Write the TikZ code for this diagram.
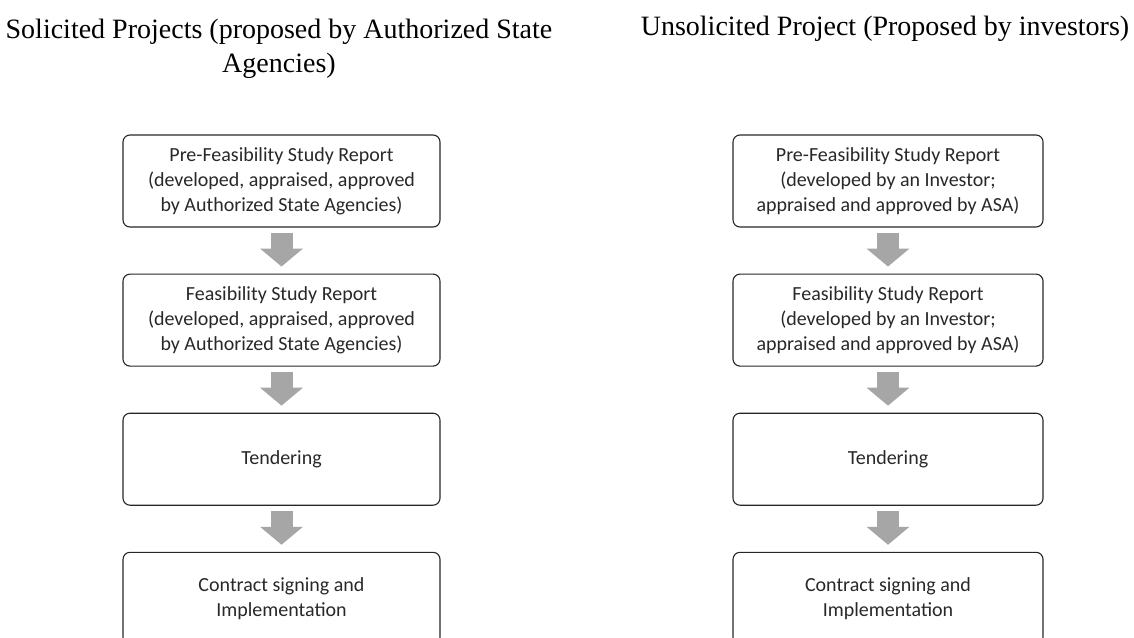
\documentclass[tikz,border=0pt]{standalone}
\usepackage{fontspec}
\usepackage{tikz}
\usetikzlibrary{arrows.meta}
\usetikzlibrary{positioning}
\newfontfamily\headfont{Liberation Serif}
\newfontfamily\stagefont{Carlito}
\definecolor{flowgray}{RGB}{166, 166, 166}
\definecolor{textgray}{RGB}{40, 40, 40}

\begin{document}
\begin{tikzpicture}[
      x=1pt, y=-1pt,
      heading/.style={align=center, anchor=base, font=\headfont\fontsize{28}{34}\selectfont},
      stage/.style={rectangle, rounded corners=7pt, draw=black!85, line width=1.1pt,
                    minimum width=317pt, minimum height=92pt, inner sep=0pt,
                    align=center, text=textgray, font=\stagefont\fontsize{20}{25}\selectfont},
      flow/.style={draw=flowgray, line width=22pt, -{Triangle[width=42pt, length=18pt]},
                   shorten <=5pt, shorten >=7pt},
      node distance=46pt
    ]
      \useasboundingbox (0,0) rectangle (1134,637);
      \clip (0,0) rectangle (1134,637);

      \node [heading] (solhead) at (279,72)
            {Solicited Projects (proposed by Authorized State\\Agencies)};
      \node [heading] (unsolhead) at (885,35)
            {Unsolicited Project (Proposed by investors)};

      % solicited column
      \node [stage] (solpre) at (281.5,181)
            {Pre-Feasibility Study Report\\(developed, appraised, approved\\by Authorized State Agencies)};
      \node [stage, below=of solpre] (solfeas)
            {Feasibility Study Report\\(developed, appraised, approved\\by Authorized State Agencies)};
      \node [stage, below=of solfeas] (soltender) {Tendering};
      \node [stage, below=of soltender] (solcontract)
            {Contract signing and\\Implementation};

      % unsolicited column
      \node [stage, minimum width=310pt] (unspre) at (888,181)
            {Pre-Feasibility Study Report\\(developed by an Investor;\\appraised and approved by ASA)};
      \node [stage, minimum width=310pt, below=of unspre] (unsfeas)
            {Feasibility Study Report\\(developed by an Investor;\\appraised and approved by ASA)};
      \node [stage, minimum width=310pt, below=of unsfeas] (unstender) {Tendering};
      \node [stage, minimum width=310pt, below=of unstender] (unscontract)
            {Contract signing and\\Implementation};

      \draw [flow] (solpre) -- (solfeas);
      \draw [flow] (solfeas) -- (soltender);
      \draw [flow] (soltender) -- (solcontract);
      \draw [flow] (unspre) -- (unsfeas);
      \draw [flow] (unsfeas) -- (unstender);
      \draw [flow] (unstender) -- (unscontract);
    \end{tikzpicture}
\end{document}
